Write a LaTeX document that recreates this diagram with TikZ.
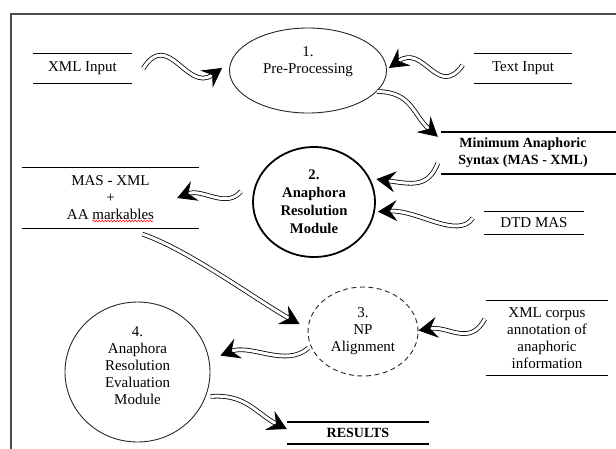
\documentclass[tikz,border=0pt]{standalone}
\usepackage{fontspec}
\setmainfont{Liberation Serif}
\usetikzlibrary{calc}
\usetikzlibrary{shapes.geometric}
\usetikzlibrary{arrows.meta,decorations.pathmorphing}
\tikzset{
	every node/.style={font=\fontsize{15}{17}\selectfont},
	heavy/.style={font=\fontsize{14}{17}\bfseries\selectfont},
	store/.style={
			inner sep=0pt, align=center,
			append after command={
					(\tikzlastnode.north west) edge[line width=#1] (\tikzlastnode.north east)
					(\tikzlastnode.south west) edge[line width=#1] (\tikzlastnode.south east)}
		},
	store/.default=1pt,
	proc/.style={ellipse, draw=black!85, line width=0.9pt, inner sep=0pt, align=center},
	flow/.style={double, double distance=3pt, line width=0.8pt, -{Stealth[length=19pt, width=21pt, inset=7pt]}},
	spell/.style={red, line width=0.5pt, decorate, decoration={zigzag, amplitude=0.9pt, segment length=3pt}}
}
\usepackage{tikz}

\begin{document}
\begin{tikzpicture}[x=1pt, y=-1pt]
			\clip (0,0) rectangle (616,448);
			\draw[black!70, line width=1.4pt] (11,14) rectangle (640,470);

			\node[store, minimum width=99pt, minimum height=29pt] (xmlin) at (82.5,68.5) {XML Input};
			\node[store, minimum width=98pt, minimum height=29pt] (textin) at (523,68.5) {Text Input};
			\node[heavy, align=center, inner sep=0pt, minimum width=164pt, minimum height=42pt] (mas) at (523,153) {Minimum Anaphoric\\Syntax (MAS - XML)};
			\draw[line width=2pt] (mas.north west) -- ++(190,0) (mas.south west) -- ++(190,0);
			\node[store, minimum width=177pt, minimum height=60pt] (maso) at (110.5,198) {MAS - XML\\+\\AA markables};
			\draw[spell] ($(maso.center)+(-18,23)$) -- ($(maso.center)+(43,23)$);
			\node[store, minimum width=100pt, minimum height=22pt] (dtd) at (534,223) {DTD MAS};
			\node[store, minimum width=122pt, minimum height=74pt] (corpus) at (547,338) {XML corpus\\annotation of\\anaphoric\\information};
			\node[store=2pt, heavy, minimum width=142pt, minimum height=22pt] (results) at (358,433) {RESULTS};

			\node[proc, minimum width=157pt, minimum height=85pt] (pre) at (308,70.5) {};
			\node[align=center, inner sep=0pt] (pretext) at ($(pre.center)+(0,-9)$) {1.\\Pre-Processing};
			\node[proc, draw=black, line width=1.8pt, minimum width=122pt, minimum height=110pt, font=\fontsize{14.7}{18}\bfseries\selectfont] (anaph) at (314,202) {2.\\Anaphora\\Resolution\\Module};
			\node[proc, dash pattern=on 5pt off 3.5pt, minimum width=110pt, minimum height=89pt] (npal) at (363,331.5) {3.\\NP\\Alignment};
			\node[proc, minimum width=145pt, minimum height=140pt] (eval) at (137.5,372) {};
			\node[align=center, inner sep=0pt] (evaltext) at ($(eval.center)+(0,-6)$) {4.\\Anaphora\\Resolution\\Evaluation\\Module};

			\draw[flow] ($(xmlin.east)+(11,0)$) .. controls +(25,-40) and +(-35,25) .. ($(pre.west)+(-7,-2.5)$);
			\draw[flow] ($(textin.west)+(-11,-3.5)$) .. controls +(-25,35) and +(35,-25) .. ($(pre.east)+(2,-2.5)$);
			\draw[flow] (pre.-17) .. controls +(35,0) and +(-25,-22) .. ($(mas.north west)+(-3,5)$);
			\draw[flow] ($(mas.south west)+(-3,-11)$) .. controls +(-10,25) and +(35,5) .. ($(anaph.20)+(5,-2)$);
			\draw[flow] ($(dtd.west)+(-11,-5)$) .. controls +(-15,22) and +(40,-2) .. ($(anaph.-9)+(3,0)$);
			\draw[flow] ($(anaph.171)+(-12,-1)$) .. controls +(-15,18) and +(25,-10) .. ($(maso.east)+(-22,0)$);
			\draw[flow] ($(maso.south)+(32,6)$) .. controls +(45,15) and +(-40,-22) .. ($(npal.west)+(-8,-7.5)$);
			\draw[flow] ($(corpus.west)+(-1,-19)$) .. controls +(-15,28) and +(30,-5) .. ($(npal.east)+(0,-1)$);
			\draw[flow] ($(npal.200)+(-4,-2)$) .. controls +(-22,20) and +(30,-12) .. ($(eval.13)+(12,0)$);
			\draw[flow] ($(eval.-18)+(4,2)$) .. controls +(35,-3) and +(-30,-15) .. ($(results.west)+(0,-4)$);
		\end{tikzpicture}
\end{document}
